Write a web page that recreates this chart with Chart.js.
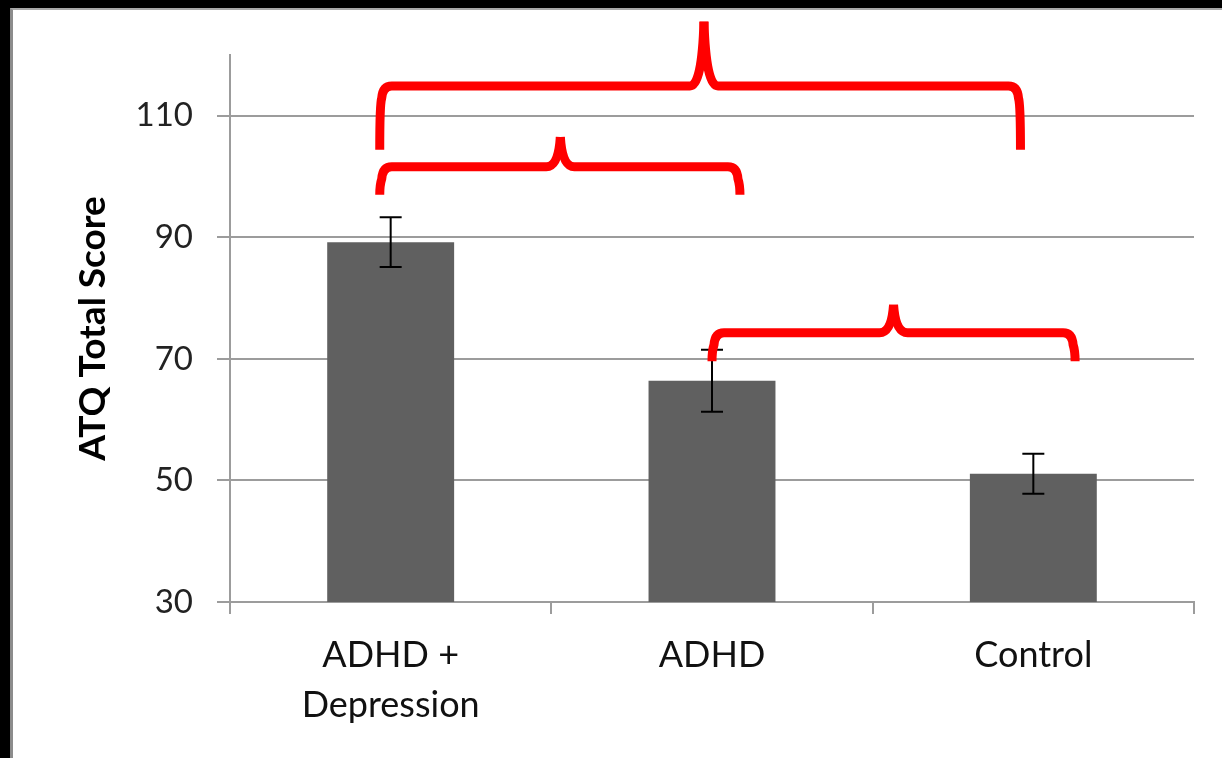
<!DOCTYPE html>
<html>
<head>
  <meta charset="UTF-8">
  <title>ATQ Total Score</title>
  <script src="https://cdn.jsdelivr.net/npm/chart.js"></script>
  <style>
    body {
      margin: 0;
      background: #fff;
      overflow: hidden;
    }
    .frame {
      border-top: 8px solid #000;
      border-left: 10px solid #000;
      width: 1212px;
      height: 750px;
    }
    .inner {
      border-top: 2px solid #a8a8a8;
      border-left: 3px solid #8c8c8c;
      width: 1209px;
      height: 748px;
    }
  </style>
</head>
<body>
  <div class="frame"><div class="inner">
    <canvas id="grafik" width="1209" height="748"></canvas>
  </div></div>

  <script>
    const groups = [['ADHD +', 'Depression'], 'ADHD', 'Control'];
    const means = [89.2, 66.4, 51.1];
    const errors = [4.1, 5.1, 3.3];
    const yTicks = [30, 50, 70, 90, 110];

    // significance braces (category index / score units)
    const braceFrom = [-0.034, -0.034, 1.0];
    const braceTo = [1.96, 1.087, 2.13];
    const braceTip = [0.975, 0.528, 1.565];
    const braceLevel = [114.9, 101.6, 74.3];
    const braceTipTop = [125.5, 106.5, 78.9];
    const braceEnd = [104.4, 97.0, 69.6];

    const gridGray = '#9c9c9c';
    const fontName = 'Lato, "Open Sans", sans-serif';

    const errorBars = {
      id: 'errorBars',
      afterDatasetsDraw(chart) {
        const ctx = chart.ctx;
        const y = chart.scales.y;
        const bars = chart.getDatasetMeta(0).data;
        ctx.save();
        ctx.strokeStyle = '#000';
        ctx.lineWidth = 2;
        bars.forEach((bar, i) => {
          const top = y.getPixelForValue(means[i] + errors[i]);
          const bot = y.getPixelForValue(means[i] - errors[i]);
          ctx.beginPath();
          ctx.moveTo(bar.x, top);
          ctx.lineTo(bar.x, bot);
          ctx.moveTo(bar.x - 11, top);
          ctx.lineTo(bar.x + 11, top);
          ctx.moveTo(bar.x - 11, bot);
          ctx.lineTo(bar.x + 11, bot);
          ctx.stroke();
        });
        ctx.restore();
      }
    };

    const braces = {
      id: 'braces',
      afterDraw(chart) {
        const ctx = chart.ctx;
        const x = chart.scales.x;
        const y = chart.scales.y;
        const r = 12;
        ctx.save();
        ctx.strokeStyle = '#ff0000';
        ctx.lineWidth = 9;
        ctx.lineCap = 'butt';
        ctx.lineJoin = 'round';
        for (let i = 0; i < braceFrom.length; i++) {
          const x0 = x.getPixelForValue(braceFrom[i]);
          const x1 = x.getPixelForValue(braceTo[i]);
          const xt = x.getPixelForValue(braceTip[i]);
          const yh = y.getPixelForValue(braceLevel[i]);
          const yt = y.getPixelForValue(braceTipTop[i]);
          const ye = y.getPixelForValue(braceEnd[i]);
          // left half
          ctx.beginPath();
          ctx.moveTo(x0, ye);
          ctx.quadraticCurveTo(x0, yh + r + 6, x0 + 2, yh + r);
          ctx.quadraticCurveTo(x0 + 3, yh, x0 + r, yh);
          ctx.lineTo(xt - 14, yh);
          ctx.quadraticCurveTo(xt - 2, yh, xt, yt);
          ctx.stroke();
          // right half
          ctx.beginPath();
          ctx.moveTo(x1, ye);
          ctx.quadraticCurveTo(x1, yh + r + 6, x1 - 2, yh + r);
          ctx.quadraticCurveTo(x1 - 3, yh, x1 - r, yh);
          ctx.lineTo(xt + 14, yh);
          ctx.quadraticCurveTo(xt + 2, yh, xt, yt);
          ctx.stroke();
        }
        ctx.restore();
      }
    };

    const ctx = document.getElementById('grafik').getContext('2d');
    const chart = new Chart(ctx, {
      type: 'bar',
      data: {
        labels: groups,
        datasets: [{
          data: means,
          backgroundColor: '#606060',
          borderWidth: 0,
          barPercentage: 0.395,
          categoryPercentage: 1
        }]
      },
      options: {
        responsive: false,
        animation: false,
        layout: {
          padding: { left: 0, right: 28, top: 45, bottom: 0 }
        },
        plugins: {
          legend: { display: false },
          tooltip: { enabled: false }
        },
        scales: {
          x: {
            grid: {
              offset: true,
              drawOnChartArea: false,
              tickLength: 12,
              color: gridGray,
              lineWidth: 2
            },
            border: { display: true, color: gridGray, width: 2 },
            ticks: {
              color: '#111',
              padding: 16,
              font: { family: fontName, size: 36, lineHeight: 1.39 },
              maxRotation: 0
            },
            afterFit(s) { s.height = 156; }
          },
          y: {
            min: 30,
            max: 120,
            afterBuildTicks(s) {
              s.ticks = yTicks.map(v => ({ value: v }));
            },
            grid: {
              color: gridGray,
              lineWidth: 2,
              tickLength: 13
            },
            border: { display: true, color: gridGray, width: 2 },
            ticks: {
              color: '#222',
              padding: 24,
              font: { family: fontName, size: 33 }
            },
            title: {
              display: true,
              text: 'ATQ Total Score',
              color: '#000',
              font: { family: fontName, size: 37, weight: 'bold' },
              padding: { top: 58, bottom: 0 }
            },
            afterFit(s) { s.width = 217; }
          }
        }
      },
      plugins: [errorBars, braces]
    });
  </script>
</body>
</html>
